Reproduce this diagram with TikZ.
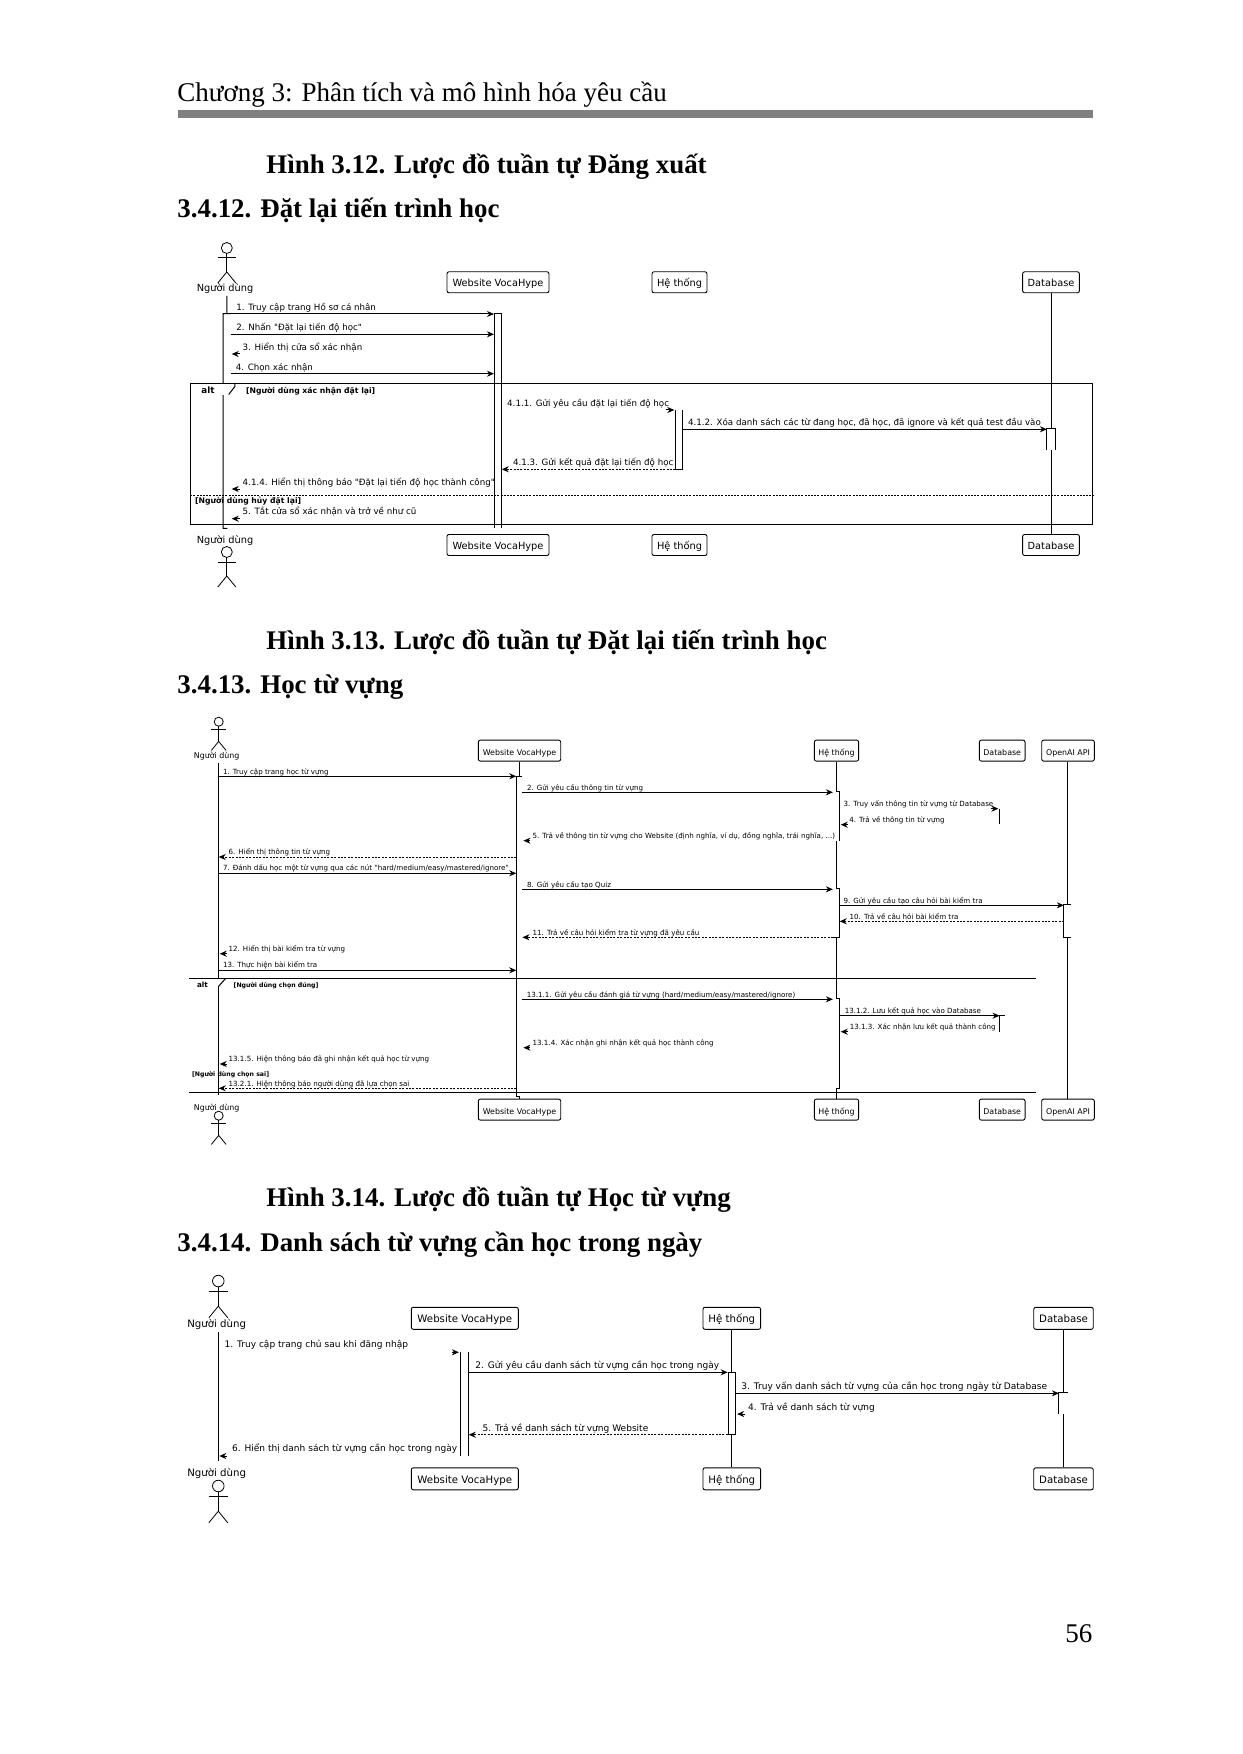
\documentclass[tikz,border=0pt]{standalone}
\usepackage{fontspec}
\setmainfont{Liberation Serif}
\newfontfamily\umlfont{DejaVu Sans}
\usetikzlibrary{arrows.meta}
\definecolor{RuleGray}{HTML}{808080}
\tikzset{
    headtxt/.style={anchor=west, inner sep=0pt, font=\fontsize{13.5}{15}\selectfont, text height=.75em, text depth=.25em},
    captxt/.style={anchor=west, inner sep=0pt, font=\bfseries\fontsize{13.45}{16}\selectfont, text height=.75em, text depth=.25em},
    party/.style={draw, rounded corners=1pt, line width=.45pt, inner ysep=0pt, align=center, text height=.75em, text depth=.3em},
    partyA/.style={party, font=\umlfont\fontsize{4.9}{6}\selectfont, inner xsep=2.5pt, minimum height=10pt},
    partyB/.style={party, font=\umlfont\fontsize{3.95}{5}\selectfont, inner xsep=2pt, minimum height=8.4pt},
    partyC/.style={party, font=\umlfont\fontsize{5.1}{6}\selectfont, inner xsep=2.7pt, minimum height=11pt},
    actlabel/.style={inner sep=0pt, yshift=1pt, text height=.75em, text depth=.2em},
    actlabelA/.style={actlabel, font=\umlfont\fontsize{4.9}{6}\selectfont},
    actlabelB/.style={actlabel, font=\umlfont\fontsize{3.95}{5}\selectfont},
    actlabelC/.style={actlabel, font=\umlfont\fontsize{5.1}{6}\selectfont},
    msgtxt/.style={anchor=west, inner sep=0pt, yshift=1.1pt, text height=.75em, text depth=.25em},
    msgA/.style={msgtxt, font=\umlfont\fontsize{4.35}{6}\selectfont},
    msgB/.style={msgtxt, font=\umlfont\fontsize{3.55}{5}\selectfont},
    msgC/.style={msgtxt, font=\umlfont\fontsize{4.52}{6}\selectfont},
    guardA/.style={msgtxt, font=\umlfont\bfseries\fontsize{3.85}{5}\selectfont},
    guardB/.style={msgtxt, font=\umlfont\bfseries\fontsize{3.1}{4}\selectfont},
    altA/.style={msgtxt, font=\umlfont\bfseries\fontsize{4.4}{5}\selectfont},
    altB/.style={msgtxt, font=\umlfont\bfseries\fontsize{3.6}{4}\selectfont},
    msg/.style={line width=.5pt, -{Stealth[length=3.5pt, width=3pt, inset=1.1pt]}},
    reply/.style={msg, dash pattern=on 1pt off .7pt},
    lifeline/.style={line width=.5pt},
    framebox/.style={line width=.5pt},
    elseline/.style={line width=.4pt, dash pattern=on 1pt off .6pt},
    actbar/.style={inner sep=0pt, fill=white},
    useract/.pic={
        \draw[line width=.4pt] (0,0) circle (5.5);
        \draw[line width=.5pt] (0,5.5) -- (0,24);
        \draw[line width=.5pt] (-9,10) -- (9,10);
        \draw[line width=.4pt] (-9,35) -- (0,24) -- (9,35);
    }
}
\begin{document}
\begin{tikzpicture}[x=.5pt, y=-.5pt]
    \useasboundingbox (0,0) rectangle (1242,1754);

    % Page header and headings
    \node[headtxt] (chapTitle) at (177,96.5) {Chương 3: Phân tích và mô hình hóa yêu cầu};
    \fill[RuleGray] (178.4,110) rectangle (1092.6,118);
    \node[captxt] (capA) at (266,168.5) {Hình 3.12. Lược đồ tuần tự Đăng xuất};
    \node[captxt] (secA) at (177,212.5) {3.4.12. Đặt lại tiến trình học};
    \node[captxt] (capB) at (266,644.5) {Hình 3.13. Lược đồ tuần tự Đặt lại tiến trình học};
    \node[captxt] (secB) at (177,688.5) {3.4.13. Học từ vựng};
    \node[captxt] (capC) at (266,1201.5) {Hình 3.14. Lược đồ tuần tự Học từ vựng};
    \node[captxt] (secC) at (177,1246.5) {3.4.14. Danh sách từ vựng cần học trong ngày};
    \node[headtxt] (pageNum) at (1065,1637.5) {56};

    % ---- Reset progress diagram ----
    \node[partyA, minimum width=51pt] (webA) at (498,282.3) {Website VocaHype};
    \node[partyA, minimum width=27.5pt] (hetA) at (679.5,282.3) {Hệ thống};
    \node[partyA, minimum width=27.7pt] (dbA) at (1051,282.3) {Database};
    \node[partyA, minimum width=51pt] (webB) at (498,545) {Website VocaHype};
    \node[partyA, minimum width=27.5pt] (hetB) at (679.5,545) {Hệ thống};
    \node[partyA, minimum width=27.7pt] (dbB) at (1051,545) {Database};

    \coordinate (uHeadA) at (226.8,248);
    \pic at (uHeadA) {useract};
    \node[actlabelA] (userA) at (225,288) {Người dùng};
    \coordinate (uHeadB) at (226.8,552);
    \pic at (uHeadB) {useract};
    \node[actlabelA] (userB) at (225,540) {Người dùng};

    % Lifelines and bars
    \draw[lifeline] (dbA.south -| dbA) -- (dbB.north);
    \node[actbar, minimum width=3.45pt, minimum height=107pt] (uBarA) at (226.85,421) {};
    \draw[lifeline] (userA.south -| uHeadA) -- (uBarA.north);
    \draw[lifeline] (uBarA.north east) -- (uBarA.north west) -- (uBarA.south west) -- (uBarA.south) -- (userB.north -| uHeadB);
    \node[actbar, minimum width=3.45pt, minimum height=107pt] (webBarA) at (497.85,421) {};
    \draw[lifeline] (webBarA.south west) -- (webBarA.north west) -- (webBarA.north east) -- (webBarA.south east);
    \node[actbar, minimum width=3.3pt, minimum height=29.65pt] (hetBarA) at (679,439.65) {};
    \draw[lifeline] (hetBarA.north west) -- (hetBarA.south west) -- (hetBarA.south east) -- (hetBarA.north east);
    \node[actbar, minimum width=3.7pt, minimum height=10.35pt] (dbBarA) at (1051,439.65) {};
    \draw[lifeline] (dbBarA.south west) -- (dbBarA.north west) -- (dbBarA.north east) -- (dbBarA.south east);

    % Alt frame
    \fill[white] (190.7,383.3) -- (235.4,383.3) -- (235.4,387) -- (229.2,395) -- (190.7,395) -- cycle;
    \node[draw, framebox, inner sep=0pt, minimum width=450.8pt, minimum height=70.5pt] (frmA) at (641.5,453.8) {};
    \draw[framebox] (frmA.north west) ++(44.7,0) -- ++(0,3.7) -- ++(-6.2,8);
    \draw[elseline] (frmA.west |- 0,495.3) -- (frmA.east |- 0,495.3);
    \node[altA] (altLblA) at (201,391) {alt};
    \node[guardA] (grdA1) at (245.8,390.3) {[Người dùng xác nhận đặt lại]};
    \node[guardA] (grdA2) at (194.8,500.3) {[Người dùng hủy đặt lại]};

    % Messages
    \draw[msg] (uBarA.west |- 0,314) -- (webBarA.west |- 0,314);
    \node[msgA] (a1) at (236,307.7) {1. Truy cập trang Hồ sơ cá nhân};
    \draw[msg] (uBarA.east |- 0,334.3) -- (webBarA.west |- 0,334.3);
    \node[msgA] (a2) at (236,327.7) {2. Nhấn "Đặt lại tiến độ học"};
    \draw[msg] (uBarA.east |- 0,354) ++(9,0) -- ++(-8,0);
    \node[msgA] (a3) at (242.3,347.7) {3. Hiển thị cửa sổ xác nhận};
    \draw[msg] (uBarA.east |- 0,373.7) -- (webBarA.west |- 0,373.7);
    \node[msgA] (a4) at (235.4,367.3) {4. Chọn xác nhận};
    \draw[msg] (hetBarA.west |- 0,410) ++(-9,0) -- ++(8,0);
    \node[msgA] (a411) at (506.8,403.3) {4.1.1. Gửi yêu cầu đặt lại tiến độ học};
    \draw[msg] (hetBarA.east |- 0,429.3) -- (dbBarA.west |- 0,429.3);
    \node[msgA] (a412) at (687.7,422.7) {4.1.2. Xóa danh sách các từ đang học, đã học, đã ignore và kết quả test đầu vào};
    \draw[reply] (hetBarA.west |- 0,469.3) -- (webBarA.east |- 0,469.3);
    \node[msgA] (a413) at (512.6,462.3) {4.1.3. Gửi kết quả đặt lại tiến độ học};
    \draw[msg] (uBarA.east |- 0,489) ++(9,0) -- ++(-8,0);
    \node[msgA] (a414) at (242.3,482.3) {4.1.4. Hiển thị thông báo "Đặt lại tiến độ học thành công"};
    \draw[msg] (uBarA.east |- 0,518.7) ++(9,0) -- ++(-8,0);
    \node[msgA] (a5) at (242.3,511.7) {5. Tắt cửa sổ xác nhận và trở về như cũ};

    % ---- Learn vocabulary diagram ----
    \node[partyB, minimum width=41.2pt] (webC) at (519.5,750.6) {Website VocaHype};
    \node[partyB, minimum width=21.8pt] (hetC) at (836.5,750.6) {Hệ thống};
    \node[partyB, minimum width=22.8pt] (dbC) at (1002.2,750.6) {Database};
    \node[partyB, minimum width=26.3pt] (aiC) at (1068,750.6) {OpenAI API};
    \node[partyB, minimum width=41.2pt] (webD) at (519.5,1109.6) {Website VocaHype};
    \node[partyB, minimum width=21.8pt] (hetD) at (836.5,1109.6) {Hệ thống};
    \node[partyB, minimum width=22.8pt] (dbD) at (1002.2,1109.6) {Database};
    \node[partyB, minimum width=26.3pt] (aiD) at (1068,1109.6) {OpenAI API};

    \coordinate (uHeadC) at (218.7,721.7);
    \pic[scale=.82] at (uHeadC) {useract};
    \node[actlabelB] (userC) at (216.7,755) {Người dùng};
    \coordinate (uHeadD) at (218.7,1115.7);
    \pic[scale=.82] at (uHeadD) {useract};
    \node[actlabelB] (userD) at (216.7,1106.7) {Người dùng};

    % Lifelines and bars
    \draw[lifeline] (userC.south -| uHeadC) -- (userD.north -| uHeadD);
    \draw[lifeline] (hetC.south) -- (hetD.north);
    \draw[lifeline] (aiC.south -| 1067.3,0) -- (aiD.north -| 1067.3,0);
    \node[actbar, minimum width=2.65pt, minimum height=159.65pt] (webBarB) at (519.35,936.35) {};
    \draw[lifeline] (webC.south -| webBarB) -- (webBarB.north);
    \draw[lifeline] (webBarB.north east) -- (webBarB.north west) -- (webBarB.south west) -- (webBarB.south) -- (webD.north -| webBarB);
    \node[actbar, minimum width=3pt, minimum height=24.2pt] (hetBarB1) at (836.3,816.5) {};
    \draw[lifeline] (hetBarB1.north) -- (hetBarB1.north east) -- (hetBarB1.south east);
    \node[actbar, minimum width=3pt, minimum height=24.15pt] (hetBarB2) at (836.3,913.15) {};
    \draw[lifeline] (hetBarB2.north) -- (hetBarB2.north east) -- (hetBarB2.south east) -- (hetBarB2.south west);
    \node[actbar, minimum width=3pt, minimum height=44.5pt] (hetBarB3) at (836.3,1043.8) {};
    \draw[lifeline] (hetBarB3.north) -- (hetBarB3.north east) -- (hetBarB3.south east) -- (hetBarB3.south);
    \node[actbar, minimum width=3pt, minimum height=16.15pt] (aiBarB) at (1067.3,921.15) {};
    \draw[lifeline] (aiBarB.north east) -- (aiBarB.north west) -- (aiBarB.south west) -- (aiBarB.south east);
    \coordinate (dbBarB1t) at (999.4,808.7);
    \coordinate (dbBarB1b) at (999.4,824.3);
    \draw[lifeline] (dbBarB1t) -- (dbBarB1b);
    \coordinate (dbBarB2t) at (999.6,1015.7);
    \coordinate (dbBarB2b) at (999.6,1031.7);
    \draw[lifeline] (dbBarB2b) -- (dbBarB2t) -- ++(5,0);

    % Alt frame, top and bottom rules only
    \fill[white] (189,978.3) -- (225.7,978.3) -- (218.3,986.7) -- (189,986.7) -- cycle;
    \coordinate (frmBnw) at (189,978.3);
    \coordinate (frmBne) at (1036,978.3);
    \coordinate (frmBsw) at (189,1092.3);
    \coordinate (frmBse) at (1036,1092.3);
    \draw[framebox] (frmBnw) -- (frmBne);
    \draw[framebox] (frmBsw) -- (frmBse);
    \draw[framebox] (frmBnw) ++(36.7,0) -- ++(-7.4,8.4);
    \node[altB] (altLblB) at (196.7,984.3) {alt};
    \node[guardB] (grdB1) at (233.3,984.3) {[Người dùng chọn đúng]};
    \node[guardB] (grdB2) at (191.7,1073.7) {[Người dùng chọn sai]};

    % Messages
    \draw[msg] (uHeadC |- 0,776.3) -- (webBarB.west |- 0,776.3);
    \node[msgB] (b1) at (222.7,771.3) {1. Truy cập trang học từ vựng};
    \draw[msg] (webBarB.east |- 0,792.3) -- (hetBarB1.west |- 0,792.3);
    \node[msgB] (b2) at (526.7,787.3) {2. Gửi yêu cầu thông tin từ vựng};
    \draw[msg] (dbBarB1t) ++(-8,0) -- ++(7,0);
    \node[msgB] (b3) at (843.3,803.7) {3. Truy vấn thông tin từ vựng từ Database};
    \draw[msg] (hetBarB1.east |- 0,824.7) ++(8,0) -- ++(-7,0);
    \node[msgB] (b4) at (849,819.7) {4. Trả về thông tin từ vựng};
    \draw[msg] (webBarB.east |- 0,840.7) ++(8,0) -- ++(-7,0);
    \node[msgB] (b5) at (532.3,835.7) {5. Trả về thông tin từ vựng cho Website (định nghĩa, ví dụ, đồng nghĩa, trái nghĩa, ...)};
    \draw[reply] (webBarB.west |- 0,857) -- (uHeadC |- 0,857);
    \node[msgB] (b6) at (228.3,852) {6. Hiển thị thông tin từ vựng};
    \draw[msg] (uHeadC |- 0,873.3) -- (webBarB.west |- 0,873.3);
    \node[msgB] (b7) at (222.7,868) {7. Đánh dấu học một từ vựng qua các nút "hard/medium/easy/mastered/ignore"};
    \draw[msg] (webBarB.east |- 0,889.3) -- (hetBarB2.west |- 0,889.3);
    \node[msgB] (b8) at (526.7,884.3) {8. Gửi yêu cầu tạo Quiz};
    \draw[msg] (hetBarB2.east |- 0,905.3) -- (aiBarB.west |- 0,905.3);
    \node[msgB] (b9) at (843.3,900.3) {9. Gửi yêu cầu tạo câu hỏi bài kiểm tra};
    \draw[reply] (aiBarB.west |- 0,921.3) -- (hetBarB2.east |- 0,921.3);
    \node[msgB] (b10) at (849.3,916.3) {10. Trả về câu hỏi bài kiểm tra};
    \draw[reply] (hetBarB2.west |- 0,937.3) -- (webBarB.east |- 0,937.3);
    \node[msgB] (b11) at (532.3,932.3) {11. Trả về câu hỏi kiểm tra từ vựng đã yêu cầu};
    \draw[msg] (uHeadC |- 0,953.7) ++(8,0) -- ++(-7,0);
    \node[msgB] (b12) at (228.3,948.7) {12. Hiển thị bài kiểm tra từ vựng};
    \draw[msg] (uHeadC |- 0,970.3) -- (webBarB.west |- 0,970.3);
    \node[msgB] (b13) at (222.7,964.3) {13. Thực hiện bài kiểm tra};
    \draw[msg] (webBarB.east |- 0,999.3) -- (hetBarB3.west |- 0,999.3);
    \node[msgB] (b1311) at (526.5,994.3) {13.1.1. Gửi yêu cầu đánh giá từ vựng (hard/medium/easy/mastered/ignore)};
    \draw[msg] (hetBarB3.east |- 0,1015.7) -- (dbBarB2t);
    \node[msgB] (b1312) at (844.4,1010.3) {13.1.2. Lưu kết quả học vào Database};
    \draw[msg] (hetBarB3.east |- 0,1031.7) ++(8,0) -- ++(-7,0);
    \node[msgB] (b1313) at (849.4,1026.3) {13.1.3. Xác nhận lưu kết quả thành công};
    \draw[msg] (webBarB.east |- 0,1047.7) ++(8,0) -- ++(-7,0);
    \node[msgB] (b1314) at (532.3,1042.7) {13.1.4. Xác nhận ghi nhận kết quả học thành công};
    \draw[msg] (uHeadC |- 0,1064) ++(8,0) -- ++(-7,0);
    \node[msgB] (b1315) at (228.3,1058.7) {13.1.5. Hiện thông báo đã ghi nhận kết quả học từ vựng};
    \draw[reply] (webBarB.west |- 0,1088.3) -- (uHeadC |- 0,1088.3);
    \node[msgB] (b1321) at (228.3,1083.3) {13.2.1. Hiện thông báo người dùng đã lựa chọn sai};

    % ---- Daily word list diagram ----
    \node[partyC, minimum width=53.5pt] (webE) at (464.8,1318.3) {Website VocaHype};
    \node[partyC, minimum width=28.5pt] (hetE) at (731.8,1318.3) {Hệ thống};
    \node[partyC, minimum width=29.2pt] (dbE) at (1063.5,1318.3) {Database};
    \node[partyC, minimum width=53.5pt] (webF) at (464.8,1478.8) {Website VocaHype};
    \node[partyC, minimum width=28.5pt] (hetF) at (731.8,1478.8) {Hệ thống};
    \node[partyC, minimum width=29.2pt] (dbF) at (1063.5,1478.8) {Database};

    \coordinate (uHeadE) at (218.3,1281);
    \pic[scale=1.05] at (uHeadE) {useract};
    \node[actlabelC] (userE) at (216.7,1323.7) {Người dùng};
    \coordinate (uHeadF) at (218.3,1486);
    \pic[scale=1.05] at (uHeadF) {useract};
    \node[actlabelC] (userF) at (216.7,1473.3) {Người dùng};

    % Lifelines and bars
    \draw[lifeline] (userE.south -| uHeadE) -- (userF.north -| uHeadF);
    \draw[lifeline] (hetE.south -| 731.3,0) -- (hetF.north -| 731.3,0);
    \draw[lifeline] (dbE.south -| 1063.3,0) -- (dbF.north -| 1063.3,0);
    \node[actbar, minimum width=3.5pt, minimum height=51.7pt] (webBarC) at (464.8,1404) {};
    \draw[lifeline] (webBarC.north west) -- (webBarC.south west);
    \draw[lifeline] (webBarC.north east) -- (webBarC.south east);
    \node[actbar, draw, line width=.5pt, minimum width=3.7pt, minimum height=31pt] (hetBarC) at (731.9,1403.3) {};
    \node[actbar, minimum width=4pt, minimum height=10.35pt] (dbBarC) at (1063.3,1403.65) {};
    \draw[lifeline] (dbBarC.north east) -- (dbBarC.north west) -- (dbBarC.south west);

    % Messages
    \draw[msg] (webBarC.west |- 0,1352.3) ++(-9,0) -- ++(7,0);
    \node[msgC] (c1) at (224.3,1345) {1. Truy cập trang chủ sau khi đăng nhập};
    \draw[msg] (webBarC.east |- 0,1372.3) -- (hetBarC.west |- 0,1372.3);
    \node[msgC] (c2) at (475,1365.7) {2. Gửi yêu cầu danh sách từ vựng cần học trong ngày};
    \draw[msg] (hetBarC.east |- 0,1393.3) -- (dbBarC.west |- 0,1393.3);
    \node[msgC] (c3) at (741,1386.7) {3. Truy vấn danh sách từ vựng của cần học trong ngày từ Database};
    \draw[msg] (hetBarC.east |- 0,1414) ++(9,0) -- ++(-8,0);
    \node[msgC] (c4) at (747.7,1407.7) {4. Trả về danh sách từ vựng};
    \draw[reply] (hetBarC.west |- 0,1434.7) -- (webBarC.east |- 0,1434.7);
    \node[msgC] (c5) at (482.3,1428.3) {5. Trả về danh sách từ vựng Website};
    \draw[msg] (uHeadE |- 0,1456) ++(9,0) -- ++(-8,0);
    \node[msgC] (c6) at (231.7,1449) {6. Hiển thị danh sách từ vựng cần học trong ngày};
\end{tikzpicture}
\end{document}
